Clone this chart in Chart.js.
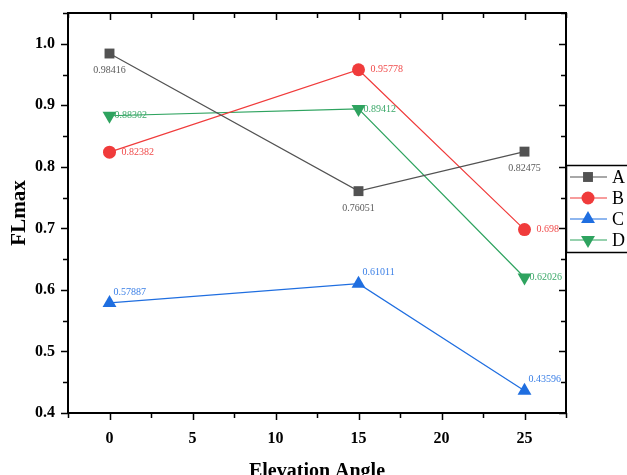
<!DOCTYPE html>
<html>
<head>
<meta charset="utf-8">
<script src="https://cdn.jsdelivr.net/npm/chart.js@4/dist/chart.umd.min.js"></script>
<style>
  html, body { margin: 0; padding: 0; background: #fff; }
  #wrap { width: 627px; height: 475px; }
</style>
</head>
<body>
<div id="wrap"><canvas id="c" width="627" height="475"></canvas></div>
<script>
// data
const angles = [0, 15, 25];
const seriesA = [0.98416, 0.76051, 0.82475];
const seriesB = [0.82382, 0.95778, 0.698];
const seriesC = [0.57887, 0.61011, 0.43596];
const seriesD = [0.88302, 0.89412, 0.62026];
const seriesNames = ['A', 'B', 'C', 'D'];

const xTicks = [0, 5, 10, 15, 20, 25];
const yTicks = [0.4, 0.5, 0.6, 0.7, 0.8, 0.9, 1.0];

const serif = "'Liberation Serif', 'Times New Roman', serif";

function pts(vals) {
  return angles.map((a, i) => ({ x: a, y: vals[i] }));
}

// label offset per series: [dx, dy, align]
const labelPos = [
  [0, 17, 'center'],
  [12, 0, 'left'],
  [4, -11, 'left'],
  [5, 0, 'left']
];

const datasets = [
  { label: seriesNames[0], data: pts(seriesA), borderColor: '#525252', backgroundColor: '#525252',
    pointStyle: 'rect', pointRadius: 7, pointRotation: 0, labelColor: '#5a5a5a' },
  { label: seriesNames[1], data: pts(seriesB), borderColor: '#f03b3b', backgroundColor: '#f03b3b',
    pointStyle: 'circle', pointRadius: 6.5, pointRotation: 0, labelColor: '#f04a4a' },
  { label: seriesNames[2], data: pts(seriesC), borderColor: '#1f6ee0', backgroundColor: '#1f6ee0',
    pointStyle: 'triangle', pointRadius: 8, pointRotation: 0, labelColor: '#3a7fe6' },
  { label: seriesNames[3], data: pts(seriesD), borderColor: '#2ea35f', backgroundColor: '#2ea35f',
    pointStyle: 'triangle', pointRadius: 8, pointRotation: 180, labelColor: '#3aa868' }
].map(d => Object.assign(d, { borderWidth: 1.2, pointBorderWidth: 0, tension: 0, fill: false, pointHoverRadius: d.pointRadius }));

// frame + ticks on all four sides
const framePlugin = {
  id: 'frame',
  afterDraw(chart) {
    const { ctx, chartArea: a, scales: { x, y } } = chart;
    ctx.save();
    ctx.strokeStyle = '#000';
    ctx.lineWidth = 2;
    ctx.strokeRect(a.left, a.top, a.right - a.left, a.bottom - a.top);
    ctx.lineWidth = 1.5;
    ctx.beginPath();
    for (let v = -2.5; v <= 27.5 + 1e-9; v += 2.5) {
      const px = Math.round(x.getPixelForValue(v)) + 0.5;
      const major = Math.abs(v % 5) < 1e-9;
      const len = major ? 7 : 5;
      ctx.moveTo(px, a.bottom); ctx.lineTo(px, a.bottom + len);
      ctx.moveTo(px, a.top); ctx.lineTo(px, a.top + len);
    }
    for (let v = 0.4; v <= 1.05 + 1e-9; v += 0.05) {
      const py = Math.round(y.getPixelForValue(v)) + 0.5;
      const major = Math.abs(Math.round(v * 20) % 2) === 0;
      const len = major ? 7 : 5;
      ctx.moveTo(a.left, py); ctx.lineTo(a.left - len, py);
      ctx.moveTo(a.right, py); ctx.lineTo(a.right - len, py);
    }
    ctx.stroke();
    ctx.restore();
  }
};

// value labels next to each point
const valuePlugin = {
  id: 'values',
  afterDatasetsDraw(chart) {
    const ctx = chart.ctx;
    ctx.save();
    ctx.font = '10px ' + serif;
    ctx.textBaseline = 'middle';
    chart.data.datasets.forEach((ds, i) => {
      const meta = chart.getDatasetMeta(i);
      const [dx, dy, align] = labelPos[i];
      ctx.fillStyle = ds.labelColor;
      ctx.textAlign = align;
      meta.data.forEach((el, j) => {
        ctx.fillText(String(ds.data[j].y), el.x + dx, el.y + dy);
      });
    });
    ctx.restore();
  }
};

// boxed legend on the right edge
const legendPlugin = {
  id: 'boxLegend',
  afterDraw(chart) {
    const ctx = chart.ctx;
    const a = chart.chartArea;
    ctx.save();
    ctx.fillStyle = '#fff';
    ctx.fillRect(a.right, 165, 70, 87);
    ctx.strokeStyle = '#000';
    ctx.lineWidth = 1.5;
    ctx.strokeRect(a.right + 0.5, 165.5, 70, 87);
    ctx.font = '18px ' + serif;
    ctx.textBaseline = 'middle';
    ctx.textAlign = 'left';
    chart.data.datasets.forEach((ds, i) => {
      const yy = 177 + i * 21;
      ctx.strokeStyle = ds.borderColor;
      ctx.lineWidth = 1.2;
      ctx.beginPath();
      ctx.moveTo(a.right + 4, yy); ctx.lineTo(a.right + 41, yy);
      ctx.stroke();
      ctx.fillStyle = ds.backgroundColor;
      Chart.helpers.drawPoint(ctx, { pointStyle: ds.pointStyle, radius: ds.pointRadius, rotation: ds.pointRotation, borderWidth: 0 }, a.right + 22, yy);
      ctx.fillStyle = '#000';
      ctx.fillText(ds.label, a.right + 46, yy + 1);
    });
    ctx.restore();
  }
};

new Chart(document.getElementById('c'), {
  type: 'line',
  data: { datasets },
  options: {
    responsive: false,
    animation: false,
    layout: { padding: { left: 0, top: 13, right: 61, bottom: 0 } },
    plugins: { legend: { display: false }, tooltip: { enabled: false } },
    scales: {
      x: {
        type: 'linear',
        min: -2.5, max: 27.5,
        afterBuildTicks: s => { s.ticks = xTicks.map(v => ({ value: v })); },
        afterFit: s => { s.height = 62; s.paddingLeft = 0; s.paddingRight = 0; },
        grid: { display: false },
        border: { display: false },
        ticks: { color: '#000', padding: 8, font: { family: serif, size: 16, weight: 'bold' } },
        title: { display: true, text: 'Elevation Angle', color: '#000', padding: { top: 0, bottom: -9 },
                 font: { family: serif, size: 20, weight: 'bold' } }
      },
      y: {
        min: 0.4, max: 1.05,
        afterBuildTicks: s => { s.ticks = yTicks.map(v => ({ value: v })); },
        afterFit: s => { s.width = 68; s.paddingTop = 0; s.paddingBottom = 0; },
        grid: { display: false },
        border: { display: false },
        ticks: { color: '#000', padding: 5, font: { family: serif, size: 16, weight: 'bold' },
                 callback: v => v.toFixed(1) },
        title: { display: true, text: 'FLmax', color: '#000', padding: { top: 7 },
                 font: { family: serif, size: 21, weight: 'bold' } }
      }
    }
  },
  plugins: [framePlugin, valuePlugin, legendPlugin]
});
</script>
</body>
</html>
